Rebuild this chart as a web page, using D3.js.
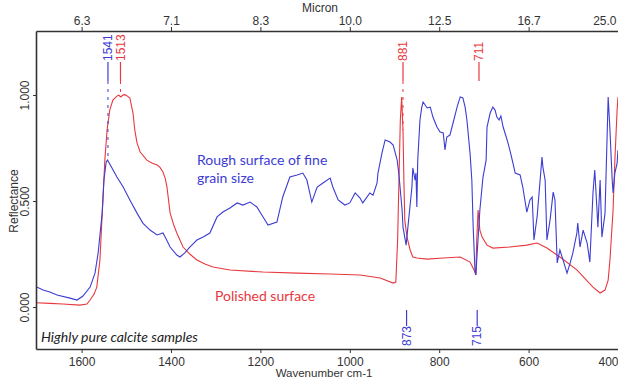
<!DOCTYPE html>
<html>
<head>
<meta charset="utf-8">
<script src="https://cdn.jsdelivr.net/npm/d3@7"></script>
<style>
	body { margin: 0; background: #fff; }
	svg { display: block; }
</style>
</head>
<body>
<script>
'use strict';

// Axis ticks (wavenumber, cm-1) and reflectance ticks
const wnTicks = [1600, 1400, 1200, 1000, 800, 600, 400];
const reflTicks = [0, 0.5, 1];

// Polished surface spectrum
const polishedWn = [1702, 1671, 1642, 1604, 1588, 1581, 1572, 1566, 1559, 1552, 1548, 1543, 1537, 1530,
	1521, 1517, 1512, 1508, 1503, 1499, 1492, 1485, 1481, 1476, 1469, 1454, 1443, 1431, 1425, 1418,
	1413, 1409, 1402, 1393, 1387, 1373, 1358, 1342, 1324, 1306, 1268, 1194, 1118, 1044, 977, 932,
	903, 897, 893, 890, 887, 884, 881, 879, 877, 872, 865, 859, 850, 827, 791, 753, 731, 722, 718,
	716, 713, 709, 704, 693, 680, 642, 604, 581, 559, 530, 492, 456, 440, 429, 422, 418, 411, 407, 402, 400];
const polishedR = [0.020, 0.017, 0.014, 0.009, 0.014, 0.033, 0.061, 0.094, 0.222, 0.519, 0.693, 0.835, 0.929, 0.976,
	0.995, 0.999, 0.991, 1.000, 1.002, 0.997, 0.986, 0.915, 0.835, 0.774, 0.731, 0.693, 0.679, 0.670, 0.660, 0.637,
	0.608, 0.566, 0.443, 0.382, 0.349, 0.283, 0.250, 0.222, 0.203, 0.189, 0.175, 0.165, 0.160, 0.156, 0.151, 0.137,
	0.113, 0.118, 0.316, 0.600, 0.880, 0.990, 0.835, 0.600, 0.410, 0.330, 0.269, 0.236, 0.231, 0.226, 0.231, 0.236, 0.212, 0.175, 0.151,
	0.316, 0.458, 0.363, 0.330, 0.292, 0.278, 0.283, 0.292, 0.302, 0.278, 0.236, 0.175, 0.094, 0.066, 0.080, 0.127, 0.222, 0.458, 0.693, 0.929, 0.990];

// Rough surface of fine grain size spectrum
const roughWn = [1702, 1686, 1671, 1655, 1626, 1610, 1597, 1581, 1570, 1563, 1554, 1550, 1545, 1542, 1532, 1521,
	1507, 1492, 1476, 1463, 1447, 1431, 1418, 1413, 1402, 1387, 1380, 1369, 1358, 1342, 1328, 1313, 1297,
	1284, 1268, 1252, 1239, 1223, 1208, 1194, 1183, 1163, 1150, 1134, 1118, 1105, 1096, 1085, 1073, 1060,
	1044, 1038, 1026, 1011, 1000, 988, 977, 971, 955, 948, 939, 937, 928, 921, 910, 903, 894, 890, 883,
	881, 874, 870, 861, 859, 854, 852, 850, 848, 843, 839, 836, 827, 820, 814, 805, 798, 791, 787, 783,
	776, 769, 760, 753, 747, 742, 738, 731, 727, 724, 720, 718, 716, 709, 702, 695, 693, 686, 680, 675,
	671, 666, 662, 657, 648, 642, 635, 630, 619, 613, 604, 597, 592, 588, 581, 570, 568, 563, 559, 552,
	545, 541, 536, 530, 523, 514, 507, 501, 492, 490, 485, 478, 469, 463, 456, 452, 447, 445, 440, 436,
	429, 422, 418, 413, 411, 407, 402, 400];
const roughR = [0.096, 0.080, 0.071, 0.057, 0.042, 0.033, 0.052, 0.094, 0.160, 0.255, 0.443, 0.599, 0.684, 0.693, 0.656, 0.613,
	0.566, 0.505, 0.443, 0.396, 0.363, 0.340, 0.349, 0.330, 0.283, 0.245, 0.236, 0.255, 0.283, 0.316, 0.330, 0.349, 0.425,
	0.448, 0.467, 0.491, 0.481, 0.495, 0.472, 0.425, 0.387, 0.401, 0.519, 0.613, 0.623, 0.632, 0.599, 0.495, 0.566, 0.585,
	0.608, 0.566, 0.505, 0.481, 0.491, 0.538, 0.514, 0.491, 0.538, 0.528, 0.585, 0.632, 0.726, 0.788, 0.778, 0.764, 0.693, 0.623, 0.458,
	0.377, 0.292, 0.377, 0.566, 0.656, 0.599, 0.632, 0.472, 0.693, 0.882, 0.943, 0.967, 0.939, 0.943, 0.896, 0.849, 0.825, 0.821, 0.741, 0.802,
	0.811, 0.868, 0.943, 0.991, 0.986, 0.943, 0.882, 0.726, 0.599, 0.377, 0.175, 0.151, 0.222, 0.458, 0.613, 0.693, 0.849, 0.915, 0.943, 0.929,
	0.896, 0.882, 0.901, 0.849, 0.788, 0.741, 0.679, 0.632, 0.623, 0.566, 0.448, 0.505, 0.519, 0.316, 0.425, 0.708, 0.660, 0.599, 0.316, 0.410,
	0.542, 0.505, 0.208, 0.269, 0.222, 0.160, 0.208, 0.255, 0.349, 0.396, 0.283, 0.363, 0.302, 0.212, 0.538, 0.646, 0.458, 0.377, 0.599, 0.330,
	0.443, 0.991, 0.835, 0.599, 0.538, 0.632, 0.679, 0.740];

// Peak marks: wavenumber + which spectrum it belongs to
const topPeaks = [1541, 1513, 881, 711];
const topPeakSeries = ["rough", "polished", "polished", "polished"];
const bottomPeaks = [873, 715];
const bottomPeakSeries = ["rough", "rough"];

const colors = { rough: "#3c3cd4", polished: "#e8383d" };

const params = {
	width: 618,
	height: 382,
	left: 36,
	right: 618,
	top: 31,
	bottom: 349
};

const makeContainer = (params) => {
	const svg = d3.select("body")
		.append("svg")
		.attr("width", params.width)
		.attr("height", params.height)
		.style("font-family", "'Liberation Sans', Arial, sans-serif")

	svg.append("defs").append("clipPath")
		.attr("id", "plotClip")
		.append("rect")
		.attr("x", params.left)
		.attr("y", params.top)
		.attr("width", params.right - params.left)
		.attr("height", params.bottom - params.top)

	return svg
}

const makeScales = (params) => {
	const xScale = d3.scaleLinear()
		.domain([1702, 400])
		.range([params.left, params.right])

	const yScale = d3.scaleLinear()
		.domain([-0.198, 1.302])
		.range([params.bottom, params.top])

	return [xScale, yScale]
}

const styleAxis = (g) => {
	g.select(".domain").attr("stroke", "#333").attr("stroke-width", 1.6)
	g.selectAll(".tick line").attr("stroke", "#333")
	g.selectAll(".tick text").attr("fill", "#333").style("font-size", "12px")
}

const addAxes = (svg, xScale, yScale, params) => {
	// bottom: wavenumber
	const bottom = svg.append("g")
		.attr("transform", `translate(0,${params.bottom})`)
		.call(d3.axisBottom(xScale).tickValues(wnTicks).tickSize(4).tickSizeOuter(0).tickFormat(d3.format("d")))
	styleAxis(bottom)
	bottom.selectAll(".tick text").attr("y", 8)
	bottom.selectAll(".tick").filter(d => d === 400).select("text").attr("text-anchor", "end")

	svg.append("text")
		.attr("x", 324)
		.attr("y", 377)
		.attr("text-anchor", "middle")
		.attr("fill", "#333")
		.style("font-size", "11.5px")
		.text("Wavenumber cm-1")

	// top: micron
	const top = svg.append("g")
		.attr("transform", `translate(0,${params.top})`)
		.call(d3.axisTop(xScale).tickValues(wnTicks).tickSize(4).tickSizeOuter(0).tickFormat(d => (10000 / d).toFixed(1)))
	styleAxis(top)
	top.selectAll(".tick text").attr("y", -6)
	top.selectAll(".tick").filter(d => d === 400).select("text").attr("text-anchor", "end").attr("dx", -2)

	svg.append("text")
		.attr("x", 320)
		.attr("y", 12)
		.attr("text-anchor", "middle")
		.attr("fill", "#333")
		.style("font-size", "12px")
		.text("Micron")

	// left: reflectance
	const left = svg.append("g")
		.attr("transform", `translate(${params.left},0)`)
		.call(d3.axisLeft(yScale).tickValues(reflTicks).tickSize(3).tickSizeOuter(0).tickFormat(d3.format(".3f")))
	styleAxis(left)
	left.selectAll(".tick text")
		.attr("x", null)
		.attr("dy", "0.35em")
		.attr("text-anchor", "middle")
		.attr("transform", "translate(-11,0) rotate(-90)")

	svg.append("text")
		.attr("transform", "translate(14,201) rotate(-90)")
		.attr("dy", "0.35em")
		.attr("text-anchor", "middle")
		.attr("fill", "#333")
		.style("font-size", "12px")
		.text("Reflectance")
}

const seriesValueAt = (wns, vals, wn) => {
	for (let i = 1; i < wns.length; i++) {
		if (wns[i] <= wn) {
			const t = (wns[i - 1] - wn) / (wns[i - 1] - wns[i])
			return vals[i - 1] + t * (vals[i] - vals[i - 1])
		}
	}
	return vals[vals.length - 1]
}

const addSpectra = (svg, xScale, yScale) => {
	const line = d3.line()
		.x(d => xScale(d[0]))
		.y(d => yScale(d[1]))

	const plot = svg.append("g").attr("clip-path", "url(#plotClip)")

	plot.append("path")
		.datum(d3.zip(polishedWn, polishedR))
		.attr("fill", "none")
		.attr("stroke", colors.polished)
		.attr("stroke-width", 1.1)
		.attr("d", line)

	plot.append("path")
		.datum(d3.zip(roughWn, roughR))
		.attr("fill", "none")
		.attr("stroke", colors.rough)
		.attr("stroke-width", 1.1)
		.attr("d", line)
}

const addPeakMarks = (svg, xScale, yScale) => {
	const series = {
		rough: [roughWn, roughR],
		polished: [polishedWn, polishedR]
	}
	const dashed = new Set([1541, 1513, 881])

	topPeaks.forEach((wn, i) => {
		const c = colors[topPeakSeries[i]]
		const px = xScale(wn)
		const g = svg.append("g")
		g.append("line")
			.attr("x1", px).attr("x2", px)
			.attr("y1", 62).attr("y2", 81)
			.attr("stroke", c).attr("stroke-width", 1.2)
		if (dashed.has(wn)) {
			const [ws, vs] = series[topPeakSeries[i]]
			g.append("line")
				.attr("x1", px).attr("x2", px)
				.attr("y1", 81).attr("y2", yScale(seriesValueAt(ws, vs, wn)))
				.attr("stroke", c).attr("stroke-width", 1)
				.attr("stroke-dasharray", "3,5")
		}
		g.append("text")
			.attr("transform", `translate(${px},61) rotate(-90)`)
			.attr("dy", "0.35em")
			.attr("fill", c)
			.style("font-size", "12px")
			.text(wn)
	})

	bottomPeaks.forEach((wn, i) => {
		const c = colors[bottomPeakSeries[i]]
		const px = xScale(wn)
		svg.append("line")
			.attr("x1", px).attr("x2", px)
			.attr("y1", 310).attr("y2", 326)
			.attr("stroke", c).attr("stroke-width", 1.2)
		svg.append("text")
			.attr("transform", `translate(${px},346) rotate(-90)`)
			.attr("dy", "0.35em")
			.attr("fill", c)
			.style("font-size", "12px")
			.text(wn)
	})
}

const addNotes = (svg) => {
	const note = svg.append("g").style("font-family", "Lato, 'Open Sans', sans-serif").style("font-size", "14px")
	note.append("text").attr("x", 197).attr("y", 165).attr("fill", colors.rough).text("Rough surface of fine")
	note.append("text").attr("x", 197).attr("y", 183).attr("fill", colors.rough).text("grain size")
	note.append("text").attr("x", 215).attr("y", 301).attr("fill", colors.polished).text("Polished surface")
	note.append("text").attr("x", 41).attr("y", 342).attr("fill", "#222")
		.style("font-style", "italic").text("Highly pure calcite samples")
}

const svg = makeContainer(params)
const [xScale, yScale] = makeScales(params)
addSpectra(svg, xScale, yScale)
addAxes(svg, xScale, yScale, params)
addPeakMarks(svg, xScale, yScale)
addNotes(svg)
</script>
</body>
</html>
